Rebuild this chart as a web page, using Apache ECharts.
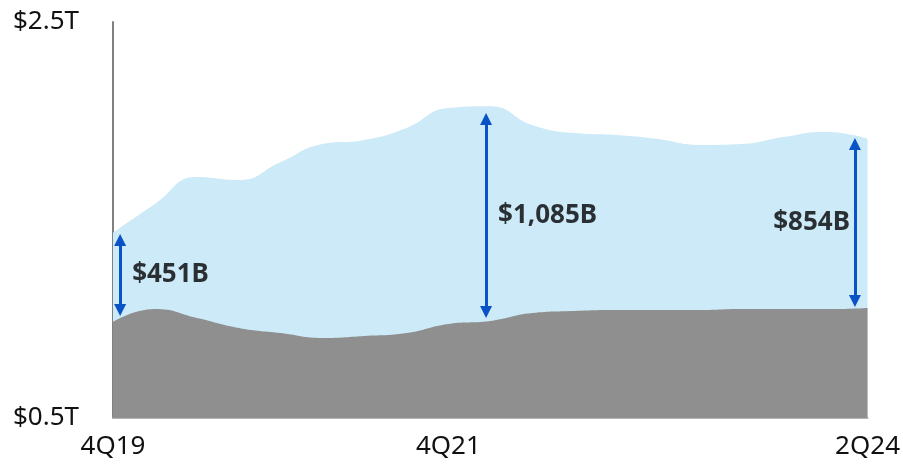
<!DOCTYPE html>
<html>
<head>
<meta charset="utf-8">
<script src="https://cdn.jsdelivr.net/npm/echarts@6/dist/echarts.min.js"></script>
<style>
  html, body { margin: 0; padding: 0; background: #fff; }
  #chart { width: 903px; height: 465px; }
</style>
</head>
<body>
<div id="chart"></div>
<script>
// quarters 4Q19 .. 2Q24
const quarters = ['4Q19', '1Q20', '2Q20', '3Q20', '4Q20', '1Q21', '2Q21', '3Q21', '4Q21', '1Q22',
  '2Q22', '3Q22', '4Q22', '1Q23', '2Q23', '3Q23', '4Q23', '1Q24', '2Q24'];
const shownQuarters = ['4Q19', '4Q21', '2Q24'];

// $B
const totalValues = [1436, 1581, 1717, 1702, 1793, 1884, 1904, 1965, 2066, 2075,
  1980, 1939, 1929, 1909, 1879, 1884, 1919, 1944, 1910];
const baseValues = [985, 1050, 1005, 955, 929, 904, 914, 929, 975, 990,
  1030, 1040, 1045, 1045, 1045, 1050, 1050, 1050, 1056];

const yTicks = [500, 2500];

// gap annotations
const gapLabels = ['$451B', '$1,085B', '$854B'];
const gapX = [0.17, 8.9, 17.7];
const gapLow = [1045, 1035, 1091];
const gapHigh = [1399, 2010, 1884];
const gapSide = ['right', 'right', 'left'];

const FONT = '"Noto Sans", "Open Sans", sans-serif';
const BLUE = '#0a53c6';

const myChart = echarts.init(document.getElementById('chart'));

const toPairs = (arr) => arr.map((v, i) => [i, v]);

const option = {
  animation: false,
  grid: { left: 113, right: 33, top: 22, bottom: 47 },
  xAxis: {
    type: 'value',
    min: 0,
    max: quarters.length - 1,
    interval: 1,
    axisLine: { show: true, onZero: false, lineStyle: { color: '#b4b4b4', width: 2 } },
    axisTick: { show: false },
    splitLine: { show: false },
    axisLabel: {
      margin: 16,
      color: '#111',
      fontFamily: FONT,
      fontSize: 26,
      showMinLabel: true,
      showMaxLabel: true,
      formatter: (v) => shownQuarters.includes(quarters[v]) ? quarters[v] : ''
    }
  },
  yAxis: {
    type: 'value',
    min: yTicks[0],
    max: yTicks[1],
    interval: yTicks[1] - yTicks[0],
    axisLine: { show: true, lineStyle: { color: '#808080', width: 2 } },
    axisTick: { show: false },
    splitLine: { show: false },
    axisLabel: {
      margin: 34,
      color: '#111',
      fontFamily: FONT,
      fontSize: 26,
      formatter: (v) => '$' + (v / 1000) + 'T'
    }
  },
  series: [
    {
      name: 'total',
      type: 'line',
      data: toPairs(totalValues),
      smooth: 0.5,
      showSymbol: false,
      lineStyle: { width: 0 },
      areaStyle: { color: '#cceaf7', opacity: 1, origin: 'start' },
      z: 1
    },
    {
      name: 'base',
      type: 'line',
      data: toPairs(baseValues),
      smooth: 0.5,
      showSymbol: false,
      lineStyle: { width: 0 },
      areaStyle: { color: '#8f8f8f', opacity: 1, origin: 'start' },
      z: 2,
      markLine: {
        silent: true,
        symbol: ['triangle', 'triangle'],
        symbolSize: [12, 12],
        label: { show: false },
        lineStyle: { color: BLUE, width: 3, type: 'solid' },
        data: gapX.map((x, i) => [
          { coord: [x, gapLow[i]] },
          { coord: [x, gapHigh[i]] }
        ])
      }
    },
    {
      name: 'gapLabels',
      type: 'scatter',
      symbolSize: 0,
      silent: true,
      z: 5,
      data: gapX.map((x, i) => ({
        value: [x, (gapLow[i] + gapHigh[i]) / 2],
        label: {
          show: true,
          position: gapSide[i],
          distance: gapSide[i] === 'left' ? 5 : 12,
          formatter: gapLabels[i],
          color: '#000',
          fontFamily: FONT,
          fontWeight: 'bold',
          fontSize: 26
        }
      }))
    }
  ]
};

myChart.setOption(option);
window.addEventListener('resize', () => myChart.resize());
</script>
</body>
</html>
